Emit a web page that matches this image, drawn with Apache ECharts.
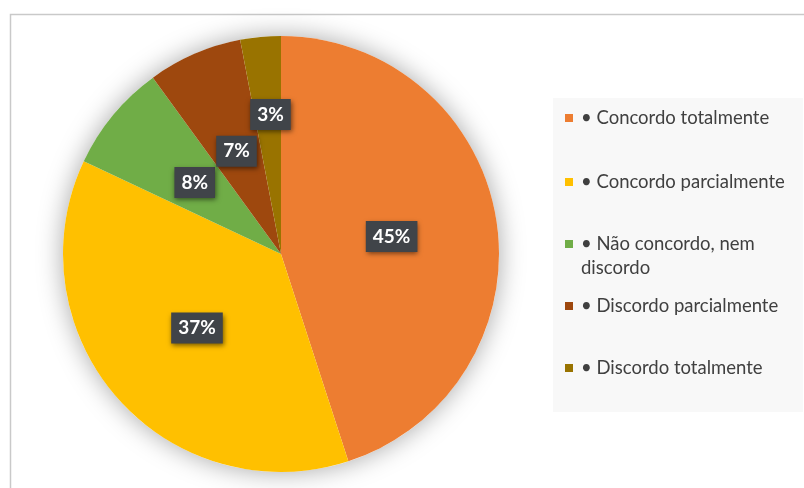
<!DOCTYPE html>
<html><head><meta charset="utf-8">
<script src="https://cdn.jsdelivr.net/npm/echarts@6/dist/echarts.min.js"></script>
<style>html,body{margin:0;padding:0;background:#fff}#c{width:804px;height:488px}</style>
</head><body><div id="c"></div>
<script>
const categories = ['• Concordo totalmente', '• Concordo parcialmente', '• Não concordo, nem discordo', '• Discordo parcialmente', '• Discordo totalmente'];
const values = [45, 37, 8, 7, 3];
const colors = ['#ED7D31', '#FFC000', '#70AD47', '#9E480E', '#997300'];

const FONT = 'Lato, "Open Sans", sans-serif';
const LH = 24;
// vertical centre of each legend entry's first line
const legendLineCentres = [118, 182, 244, 306, 368];

const chart = echarts.init(document.getElementById('c'));
const legends = categories.map((name, i) => {
  const twoLine = i === 2;
  return {
    data: [name],
    orient: 'vertical',
    left: 565,
    top: twoLine ? legendLineCentres[i] - LH * 1.5 : legendLineCentres[i] - LH / 2,
    padding: 0,
    icon: 'rect',
    itemWidth: 8,
    itemHeight: 8,
    selectedMode: false,
    formatter: twoLine ? (n) => '\n' + n.replace(', nem ', ', nem\n') : (n) => n,
    textStyle: {
      fontFamily: FONT, fontSize: 18.5, color: '#404040', lineHeight: LH,
      padding: [0, 0, 0, 3]
    }
  };
});

chart.setOption({
  animation: false,
  color: colors,
  graphic: [
    { type: 'rect', left: 8, top: 12, shape: { width: 900, height: 600 }, style: { fill: 'none', stroke: '#C9C9C9', lineWidth: 1.5 }, silent: true, z: -10 },
    { type: 'rect', left: 553, top: 98, shape: { width: 250, height: 314 }, style: { fill: '#F8F8F8' }, silent: true, z: -9 }
  ],
  legend: legends,
  series: [
    {
      type: 'pie', silent: true, center: [281, 254], radius: 218, startAngle: 90,
      data: [{ value: 1, name: '__shadow' }],
      itemStyle: { color: '#ffffff', shadowBlur: 26, shadowColor: 'rgba(0,0,0,0.35)' },
      label: { show: false }, labelLine: { show: false }, z: 1
    },
    {
      type: 'pie', center: [281, 254], radius: 218, startAngle: 90, clockwise: true,
      data: categories.map((n, i) => ({ name: n, value: values[i] })),
      itemStyle: { borderWidth: 0 },
      label: {
        show: true, position: 'inside', formatter: '{c}%',
        fontFamily: FONT, fontSize: 19, fontWeight: 'bold', color: '#ffffff',
        backgroundColor: '#404449', padding: [6, 7, 5, 7], lineHeight: 20,
        shadowBlur: 5, shadowColor: 'rgba(0,0,0,0.55)', shadowOffsetX: 1, shadowOffsetY: 2
      },
      labelLayout: function (p) { return p.dataIndex === 4 ? { dy: -28 } : {}; },
      labelLine: { show: false },
      emphasis: { disabled: true },
      z: 2
    }
  ]
});
</script></body></html>
